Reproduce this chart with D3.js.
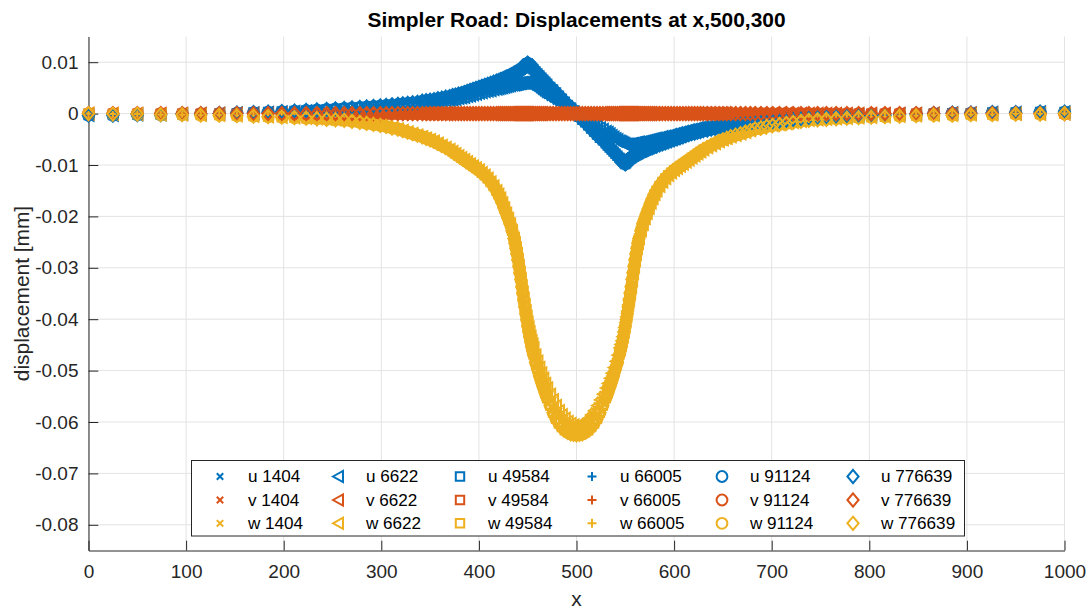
<!DOCTYPE html>
<html>
<head>
<meta charset="utf-8">
<script src="https://cdn.jsdelivr.net/npm/d3@7"></script>
<style>
  body { margin: 0; background: #fff; }
  svg { display: block; }
  text { font-family: "Liberation Sans", Arial, Helvetica, sans-serif; }
</style>
</head>
<body>
<svg id="chart" width="1090" height="613"></svg>
<script>
// Node positions along the line (x) shared by every mesh
const nodeX = [
  0, 25, 50, 74, 96, 115, 134, 152, 169, 184,
  198, 211, 223, 234, 244, 253, 262, 270, 278, 285,
  292, 299, 305, 311, 317, 322, 327, 332, 337, 342,
  346, 350, 354, 358, 362, 366, 370, 373, 376, 379,
  382, 385, 388, 391, 394, 397, 400, 403, 406, 409,
  412, 415, 418, 420, 422, 424, 426, 428, 430, 432,
  434, 436, 437, 438, 439, 440, 441, 442, 443, 444,
  445, 446, 447, 448, 449, 450, 451, 452, 453, 454,
  455, 456, 458, 460, 462, 464, 466, 468, 470, 473,
  476, 479, 482, 485, 488, 491, 494, 497, 500, 503,
  506, 509, 512, 515, 518, 521, 524, 527, 530, 532,
  534, 536, 538, 540, 542, 544, 545, 546, 547, 548,
  549, 550, 551, 552, 553, 554, 555, 556, 557, 558,
  559, 560, 561, 562, 563, 564, 566, 568, 570, 572,
  574, 576, 578, 580, 582, 585, 588, 591, 594, 597,
  600, 603, 606, 609, 612, 615, 618, 621, 624, 627,
  630, 634, 638, 642, 646, 650, 654, 658, 663, 668,
  673, 678, 683, 689, 695, 701, 708, 715, 722, 730,
  738, 747, 756, 766, 777, 789, 802, 816, 831, 848,
  866, 885, 904, 926, 950, 975, 1000
];

// Displacement values below are stored in units of 1e-4 mm
const UNIT = 1e-4;

// u, fine meshes
const uFine = [
  -3, -3, -2, -2, -1, -1, 0, 1, 2, 3,
  4, 5, 6, 7, 8, 9, 10, 11, 12, 13,
  14, 15, 16, 17, 18, 19, 20, 21, 22, 24,
  25, 26, 27, 29, 30, 32, 33, 35, 36, 38,
  39, 41, 43, 45, 47, 49, 51, 53, 55, 57,
  59, 61, 63, 64, 66, 67, 69, 71, 72, 74,
  76, 78, 79, 80, 81, 82, 83, 84, 85, 87,
  88, 90, 92, 94, 96, 98, 96, 94, 92, 90,
  88, 86, 82, 78, 74, 70, 66, 62, 58, 52,
  47, 41, 35, 29, 23, 17, 12, 6, 0, -6,
  -12, -17, -23, -29, -35, -41, -47, -52, -58, -62,
  -66, -70, -74, -78, -82, -86, -88, -90, -92, -94,
  -96, -98, -96, -94, -92, -90, -88, -87, -85, -84,
  -83, -82, -81, -80, -79, -78, -76, -74, -72, -71,
  -69, -67, -66, -64, -63, -61, -59, -57, -55, -53,
  -51, -49, -47, -45, -43, -41, -39, -38, -36, -35,
  -33, -32, -30, -29, -27, -26, -25, -24, -22, -21,
  -20, -19, -18, -17, -16, -15, -14, -13, -12, -11,
  -10, -9, -8, -7, -6, -5, -4, -3, -2, -1,
  0, 1, 1, 2, 2, 3, 3
];

// u, coarse meshes
const uCoarse = [
  -3, -3, -2, -2, -1, -1, 0, 1, 1, 2,
  3, 4, 5, 5, 6, 7, 8, 8, 9, 10,
  11, 12, 12, 13, 14, 15, 16, 17, 18, 19,
  20, 21, 22, 23, 24, 25, 26, 27, 28, 30,
  31, 32, 34, 35, 37, 38, 40, 41, 43, 44,
  45, 47, 48, 49, 50, 51, 52, 53, 54, 55,
  56, 56, 57, 57, 58, 58, 59, 59, 59, 60,
  60, 60, 60, 60, 60, 60, 59, 58, 57, 56,
  55, 54, 51, 49, 46, 43, 40, 37, 35, 31,
  28, 24, 21, 17, 13, 10, 6, 3, 0, -3,
  -6, -10, -13, -17, -21, -24, -28, -31, -35, -37,
  -40, -43, -46, -49, -51, -54, -55, -56, -57, -58,
  -59, -60, -60, -60, -60, -60, -60, -60, -59, -59,
  -59, -58, -58, -57, -57, -56, -56, -55, -54, -53,
  -52, -51, -50, -49, -48, -47, -45, -44, -43, -41,
  -40, -38, -37, -35, -34, -32, -31, -30, -28, -27,
  -26, -25, -24, -23, -22, -21, -20, -19, -18, -17,
  -16, -15, -14, -13, -12, -12, -11, -10, -9, -8,
  -8, -7, -6, -5, -5, -4, -3, -2, -1, -1,
  0, 1, 1, 2, 2, 3, 3
];

// v, all meshes
const vAll = [
  0, 0, 0, 0, 0, 0, 0, 0, 0, 0,
  0, 0, 0, 0, 0, 0, 0, 0, 0, 0,
  0, 0, 0, 0, 0, 0, 0, 0, 0, 0,
  0, 0, 0, 0, 0, 0, 0, 0, 0, 0,
  0, 0, 0, 0, 0, 0, 0, 0, 0, 0,
  0, 0, 0, 0, 0, 0, 0, 0, 0, 0,
  0, 0, 0, 0, 0, 0, 0, 0, 0, 0,
  0, 0, 0, 0, 0, 0, 0, 0, 0, 0,
  0, 0, 0, 0, 0, 0, 0, 0, 0, 0,
  0, 0, 0, 0, 0, 0, 0, 0, 0, 0,
  0, 0, 0, 0, 0, 0, 0, 0, 0, 0,
  0, 0, 0, 0, 0, 0, 0, 0, 0, 0,
  0, 0, 0, 0, 0, 0, 0, 0, 0, 0,
  0, 0, 0, 0, 0, 0, 0, 0, 0, 0,
  0, 0, 0, 0, 0, 0, 0, 0, 0, 0,
  0, 0, 0, 0, 0, 0, 0, 0, 0, 0,
  0, 0, 0, 0, 0, 0, 0, 0, 0, 0,
  0, 0, 0, 0, 0, 0, 0, 0, 0, 0,
  0, 0, 0, 0, 0, 0, 0, 0, 0, 0,
  0, 0, 0, 0, 0, 0, 0
];

// w, fine meshes
const wFine = [
  0, -1, -1, -2, -2, -3, -3, -4, -5, -6,
  -7, -8, -9, -10, -11, -12, -13, -15, -17, -19,
  -21, -23, -25, -28, -30, -33, -36, -39, -42, -45,
  -48, -51, -54, -58, -62, -66, -70, -74, -78, -82,
  -86, -90, -94, -98, -102, -106, -110, -115, -120, -126,
  -133, -141, -150, -157, -165, -174, -184, -194, -204, -215,
  -228, -243, -252, -262, -273, -285, -297, -310, -323, -337,
  -350, -363, -376, -389, -401, -413, -424, -434, -444, -453,
  -461, -469, -484, -497, -510, -522, -533, -544, -554, -568,
  -582, -594, -603, -610, -616, -620, -623, -624, -625, -624,
  -623, -620, -616, -610, -603, -594, -582, -568, -554, -544,
  -533, -522, -510, -497, -484, -469, -461, -453, -444, -434,
  -424, -413, -401, -389, -376, -363, -350, -337, -323, -310,
  -297, -285, -273, -262, -252, -243, -228, -215, -204, -194,
  -184, -174, -165, -157, -150, -141, -133, -126, -120, -115,
  -110, -106, -102, -98, -94, -90, -86, -82, -78, -74,
  -70, -66, -62, -58, -54, -51, -48, -45, -42, -39,
  -36, -33, -30, -28, -25, -23, -21, -19, -17, -15,
  -13, -12, -11, -10, -9, -8, -7, -6, -5, -4,
  -3, -3, -2, -2, -1, -1, 0
];

// w, coarse meshes
const wCoarse = [
  0, -1, -1, -2, -2, -3, -3, -4, -5, -6,
  -7, -8, -9, -10, -11, -12, -13, -15, -17, -19,
  -21, -23, -25, -28, -30, -33, -36, -39, -42, -45,
  -48, -51, -54, -58, -62, -66, -70, -74, -78, -82,
  -86, -90, -94, -98, -102, -106, -110, -115, -120, -126,
  -133, -141, -150, -157, -165, -174, -184, -194, -204, -215,
  -228, -243, -252, -262, -273, -285, -297, -310, -323, -337,
  -348, -360, -372, -384, -395, -406, -416, -425, -434, -442,
  -449, -456, -470, -482, -494, -505, -515, -525, -534, -546,
  -557, -568, -578, -586, -593, -599, -603, -606, -607, -606,
  -603, -599, -593, -586, -578, -568, -557, -546, -534, -525,
  -515, -505, -494, -482, -470, -456, -449, -442, -434, -425,
  -416, -406, -395, -384, -372, -360, -348, -337, -323, -310,
  -297, -285, -273, -262, -252, -243, -228, -215, -204, -194,
  -184, -174, -165, -157, -150, -141, -133, -126, -120, -115,
  -110, -106, -102, -98, -94, -90, -86, -82, -78, -74,
  -70, -66, -62, -58, -54, -51, -48, -45, -42, -39,
  -36, -33, -30, -28, -25, -23, -21, -19, -17, -15,
  -13, -12, -11, -10, -9, -8, -7, -6, -5, -4,
  -3, -3, -2, -2, -1, -1, 0
];

const meshes = ["1404", "6622", "49584", "66005", "91124", "776639"];
const meshMarkers = ["x", "triangle-left", "square", "plus", "circle", "diamond"];
const components = ["u", "v", "w"];
const componentColors = ["#0072BD", "#D95319", "#EDB120"];

const xTicks = [0, 100, 200, 300, 400, 500, 600, 700, 800, 900, 1000];
const xTickLabels = ["0", "100", "200", "300", "400", "500", "600", "700", "800", "900", "1000"];
const yTicks = [0.01, 0, -0.01, -0.02, -0.03, -0.04, -0.05, -0.06, -0.07, -0.08];
const yTickLabels = ["0.01", "0", "-0.01", "-0.02", "-0.03", "-0.04", "-0.05", "-0.06", "-0.07", "-0.08"];

const titleText = "Simpler Road: Displacements at x,500,300";
const xLabelText = "x";
const yLabelText = "displacement [mm]";

// ---- layout ----
const W = 1090, H = 613;
const plot = { left: 88.5, right: 1064.5, top: 36.5, bottom: 550.5 };
const ink = "#262626";
const gridColor = "#e3e3e3";
const tickLen = 9.8;

const svg = d3.select("#chart");
const x = d3.scaleLinear().domain([0, 1000]).range([plot.left, plot.right]);
const y = d3.scaleLinear().domain([-0.085, 0.015]).range([plot.bottom, plot.top]);

// marker outlines, centred on the data point
function markerPath(shape) {
  switch (shape) {
    case "x": return "M-3.2,-3.2L3.2,3.2M-3.2,3.2L3.2,-3.2";
    case "triangle-left": return "M-5,0L5,-5.6L5,5.6Z";
    case "square": return "M-4.2,-4.2H4.2V4.2H-4.2Z";
    case "plus": return "M-4.5,0H4.5M0,-4.5V4.5";
    case "circle": return "M5.4,0A5.4,5.4 0 1,1 -5.4,0A5.4,5.4 0 1,1 5.4,0Z";
    case "diamond": return "M0,-6.6L5.6,0L0,6.6L-5.6,0Z";
  }
}

// grid
const grid = svg.append("g");
grid.selectAll("line.gx").data(xTicks).join("line")
  .attr("class", "gx")
  .attr("x1", d => x(d)).attr("x2", d => x(d))
  .attr("y1", plot.top).attr("y2", plot.bottom)
  .attr("stroke", gridColor).attr("stroke-width", 1);
grid.selectAll("line.gy").data(yTicks).join("line")
  .attr("class", "gy")
  .attr("x1", plot.left).attr("x2", plot.right)
  .attr("y1", d => y(d)).attr("y2", d => y(d))
  .attr("stroke", gridColor).attr("stroke-width", 1);

// axes (ticks point inward, no box)
const yAxis = d3.axisLeft(y)
  .tickValues(yTicks)
  .tickFormat((d, i) => yTickLabels[i])
  .tickSize(-tickLen).tickSizeOuter(0).tickPadding(10);
const xAxis = d3.axisBottom(x)
  .tickValues(xTicks)
  .tickFormat((d, i) => xTickLabels[i])
  .tickSize(-tickLen).tickSizeOuter(0).tickPadding(14);

function styleAxis(g) {
  g.attr("font-size", null).attr("font-family", null)
   .style("color", ink);
  g.selectAll("text").style("font-size", "19px").attr("fill", ink);
  g.selectAll("line, path").attr("stroke", ink).attr("stroke-width", 1);
}

svg.append("g").attr("transform", `translate(${plot.left},0)`).call(yAxis).call(styleAxis);
svg.append("g").attr("transform", `translate(0,${plot.bottom})`).call(xAxis).call(styleAxis);

// data markers: for each mesh, u then v then w
const series = [];
meshes.forEach((mesh, i) => {
  const coarse = i < 2;
  const values = [coarse ? uCoarse : uFine, vAll, coarse ? wCoarse : wFine];
  components.forEach((comp, j) => {
    series.push({
      name: `${comp} ${mesh}`,
      marker: meshMarkers[i],
      color: componentColors[j],
      points: nodeX.map((xv, k) => ({ x: xv, y: values[j][k] * UNIT }))
    });
  });
});

const dataLayer = svg.append("g");
series.forEach(s => {
  dataLayer.append("g")
    .attr("fill", "none")
    .attr("stroke", s.color)
    .attr("stroke-width", 2)
    .selectAll("path").data(s.points).join("path")
    .attr("d", markerPath(s.marker))
    .attr("transform", d => `translate(${x(d.x)},${y(d.y)})`);
});

// title and axis labels
svg.append("text")
  .attr("x", (plot.left + plot.right) / 2).attr("y", 26.5)
  .attr("text-anchor", "middle")
  .style("font-size", "20.9px").style("font-weight", "bold")
  .attr("fill", "#000")
  .text(titleText);

svg.append("text")
  .attr("x", (plot.left + plot.right) / 2).attr("y", 606)
  .attr("text-anchor", "middle")
  .style("font-size", "20.9px")
  .attr("fill", ink)
  .text(xLabelText);

svg.append("text")
  .attr("transform", `translate(29,${(plot.top + plot.bottom) / 2}) rotate(-90)`)
  .attr("text-anchor", "middle")
  .style("font-size", "20.9px")
  .attr("fill", ink)
  .text(yLabelText);

// legend: 6 columns (meshes) x 3 rows (u, v, w)
const legendBox = { x: 191.5, y: 460.5, w: 773, h: 75.5 };
const legendColMarkerX = [220, 338, 460, 592, 722, 853];
const legendTextOffset = 28;
const legendRowY = [476.5, 500, 523.3];

const legend = svg.append("g");
legend.append("rect")
  .attr("x", legendBox.x).attr("y", legendBox.y)
  .attr("width", legendBox.w).attr("height", legendBox.h)
  .attr("fill", "#fff").attr("stroke", ink).attr("stroke-width", 1);

series.forEach((s, idx) => {
  const col = Math.floor(idx / 3), row = idx % 3;
  const cx = legendColMarkerX[col], cy = legendRowY[row];
  legend.append("path")
    .attr("d", markerPath(s.marker))
    .attr("transform", `translate(${cx},${cy})`)
    .attr("fill", "none").attr("stroke", s.color).attr("stroke-width", 2);
  legend.append("text")
    .attr("x", cx + legendTextOffset).attr("y", cy)
    .attr("dy", "0.35em")
    .style("font-size", "17.1px")
    .attr("fill", "#000")
    .text(s.name);
});
</script>
</body>
</html>
